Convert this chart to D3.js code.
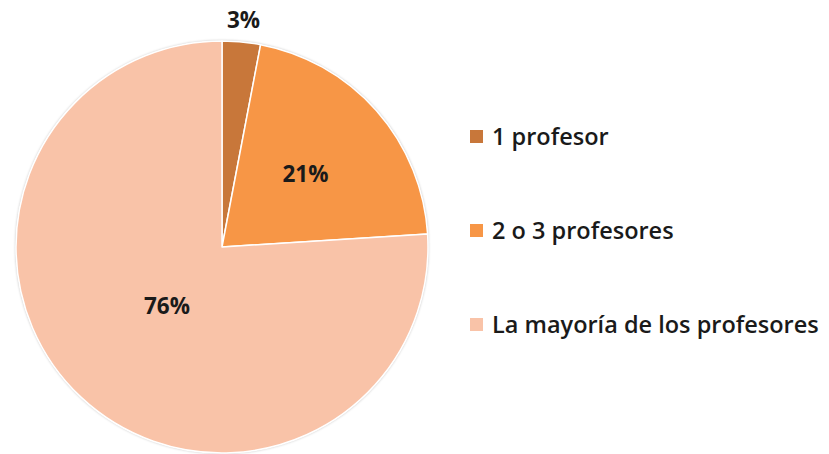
<!DOCTYPE html>
<meta charset="utf-8">
<title>Profesores</title>
<body>
<script src="https://cdn.jsdelivr.net/npm/d3@7"></script>
<style>
html, body {
    margin: 0;
    background: #fff;
}
svg {
    display: block;
    font-family: "Open Sans", sans-serif;
}
</style>
<script>
var categories = ["1 profesor", "2 o 3 profesores", "La mayoría de los profesores"];
var values = [3, 21, 76];
var colors = ["#c8773a", "#f79646", "#f9c3a8"];

var width = 829,
    height = 454,
    cx = 222,
    cy = 247,
    radius = 206;

var svg = d3.select("body").append("svg")
    .attr("width", width)
    .attr("height", height);

var data = categories.map(function(c, i) {
    return {name: c, value: values[i], color: colors[i]};
});

var pie = d3.pie()
    .sort(null)
    .value(function(d) { return d.value; });

var arc = d3.arc()
    .innerRadius(0)
    .outerRadius(radius);

var shadow = svg.append("filter")
    .attr("id", "shadow")
    .attr("x", "-10%").attr("y", "-10%")
    .attr("width", "120%").attr("height", "120%");
shadow.append("feGaussianBlur")
    .attr("in", "SourceAlpha")
    .attr("stdDeviation", 1.5);
shadow.append("feComponentTransfer").append("feFuncA").attr("type", "linear").attr("slope", 0.35);
var merge = shadow.append("feMerge");
merge.append("feMergeNode");
merge.append("feMergeNode").attr("in", "SourceGraphic");

var g = svg.append("g")
    .attr("transform", "translate(" + cx + "," + cy + ")");

g.append("circle")
    .attr("r", radius)
    .attr("fill", "#fff")
    .attr("filter", "url(#shadow)");

var arcs = pie(data);

g.selectAll("path")
    .data(arcs)
    .enter().append("path")
    .attr("d", arc)
    .attr("fill", function(d) { return d.data.color; })
    .attr("stroke", "#fff")
    .attr("stroke-width", 1.5)
    .attr("stroke-linejoin", "round");

// excel's "best fit": small slice outside, the others at their own distance
var labelRadius = [radius + 22, radius * 0.54, radius * 0.39];

function labelPos(d, i) {
    var a = (d.startAngle + d.endAngle) / 2,
        r = labelRadius[i];
    return [Math.sin(a) * r, -Math.cos(a) * r];
}

g.selectAll("text.pct")
    .data(arcs)
    .enter().append("text")
    .attr("class", "pct")
    .attr("transform", function(d, i) {
        return "translate(" + labelPos(d, i) + ")";
    })
    .attr("text-anchor", "middle")
    .attr("dy", "0.36em")
    .attr("font-size", 22.5)
    .attr("font-weight", 700)
    .attr("fill", "#1a1a1a")
    .text(function(d) { return d.data.value + "%"; });

var legend = svg.append("g")
    .attr("transform", "translate(470,0)");

var ly = d3.scalePoint()
    .domain(categories)
    .range([137, 325]);

var item = legend.selectAll("g")
    .data(data)
    .enter().append("g")
    .attr("transform", function(d) { return "translate(0," + ly(d.name) + ")"; });

item.append("rect")
    .attr("x", 0)
    .attr("y", -7)
    .attr("width", 13)
    .attr("height", 13)
    .attr("fill", function(d) { return d.color; });

item.append("text")
    .attr("x", 22)
    .attr("dy", "0.36em")
    .attr("font-size", 23.5)
    .attr("font-weight", 600)
    .attr("fill", "#1a1a1a")
    .text(function(d) { return d.name; });
</script>
